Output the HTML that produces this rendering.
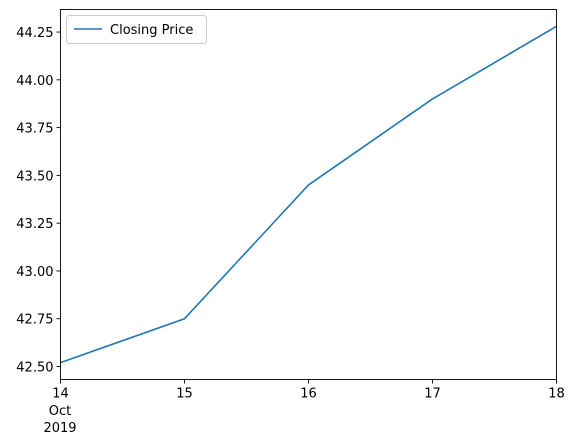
<!DOCTYPE html>
<html><head><meta charset="utf-8"><style>
body{margin:0;background:#fff}
svg{display:block;font-family:"DejaVu Sans","Liberation Sans",sans-serif}
</style></head><body>
<svg id="chart" width="574" height="445" viewBox="0 0 574 445">
<rect width="574" height="445" fill="#fff"/>
<g id="ticks"></g>
<polyline id="line" fill="none" stroke="#1f77b4" stroke-width="1.6" stroke-linejoin="round"/>
<rect x="60.5" y="9.5" width="496" height="370" fill="none" stroke="#000" stroke-width="0.9"/>
<g>
<rect x="66.5" y="15.5" width="140" height="28" rx="3" fill="#fff" stroke="#ccc"/>
<line x1="74" y1="29" x2="102" y2="29" stroke="#1f77b4" stroke-width="1.6"/>
<text x="110" y="34" font-size="13">Closing Price</text>
</g>
<text x="60" y="415" font-size="13" text-anchor="middle">Oct</text>
<text x="60" y="432" font-size="13" text-anchor="middle">2019</text>
</svg>
<script>
const days = [14, 15, 16, 17, 18];
const closes = [42.52, 42.75, 43.45, 43.90, 44.28];
const yTicks = [42.50, 42.75, 43.00, 43.25, 43.50, 43.75, 44.00, 44.25];
const NS = "http://www.w3.org/2000/svg";
const L = 60.5, R = 556.5, T = 9.5, B = 379.5;
const mn = Math.min(...closes), mx = Math.max(...closes), pad = (mx - mn) * 0.05;
const y0 = mn - pad, y1 = mx + pad;
const xs = d => L + (d - days[0]) / (days[days.length-1] - days[0]) * (R - L);
const ys = v => B - (v - y0) / (y1 - y0) * (B - T);
const g = document.getElementById('ticks');
function mk(tag, attrs, txt){const e=document.createElementNS(NS,tag);for(const k in attrs)e.setAttribute(k,attrs[k]);if(txt!=null)e.textContent=txt;g.appendChild(e);return e;}
yTicks.forEach(v=>{
  const y = ys(v);
  const t = mk('line',{x1:L-4,x2:L,y1:y,y2:y,stroke:'#000','stroke-width':0.9});
  
  
  const l = mk('text',{x:L-7,y:y+5,'font-size':13,'text-anchor':'end'},v.toFixed(2));
  
  
});
days.forEach(d=>{
  const x = xs(d);
  const t = mk('line',{x1:x,x2:x,y1:B,y2:B+4,stroke:'#000','stroke-width':0.9});
  
  
  const l = mk('text',{x:x,y:B+18,'font-size':13,'text-anchor':'middle'},String(d));
  
  
});
document.getElementById('line').setAttribute('points', days.map((d,i)=>xs(d)+','+ys(closes[i])).join(' '));
</script>
</body></html>
